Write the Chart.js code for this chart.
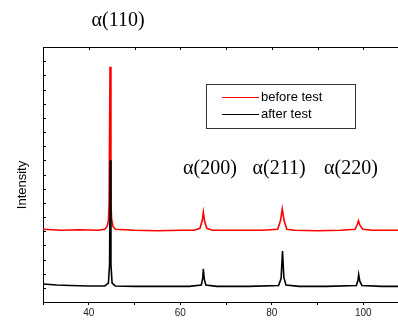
<!DOCTYPE html>
<html>
<head>
<meta charset="utf-8">
<script src="https://cdn.jsdelivr.net/npm/chart.js@4.4.1/dist/chart.umd.min.js"></script>
<style>
  html, body { margin: 0; padding: 0; background: #fff; overflow: hidden; }
  #wrap { width: 420px; height: 322px; }
</style>
</head>
<body>
<div id="wrap"><canvas id="xrdChart" width="420" height="322"></canvas></div>
<script>
// 2theta (deg) vs intensity (a.u.)
const beforeTest = [
    [30, 77], [34, 76], [38, 76.5], [42, 76], [43.5, 77], [44.0, 80], [44.3, 86], [44.45, 104],
    [44.65, 249], [44.85, 104], [45.0, 88], [45.3, 80], [45.8, 77], [50, 76], [55, 75.5], [60, 76],
    [63, 76], [64.3, 78], [64.8, 86], [65.05, 95], [65.3, 86], [65.8, 78], [67, 76], [72, 76],
    [78, 76], [81.3, 77], [81.9, 86], [82.3, 98.5], [82.7, 86], [83.3, 77], [85, 76], [90, 75.5],
    [95, 76], [98.2, 77], [98.7, 82], [98.95, 86], [99.3, 81], [99.9, 77], [102, 76], [110, 76]
];
const afterTest = [
    [30, 19], [33, 18], [36, 17.5], [40, 17], [43.5, 17], [44.3, 20], [44.55, 40], [44.7, 150],
    [44.85, 40], [45.1, 20], [45.8, 17], [50, 16.5], [56, 16.5], [62, 16.5], [64.6, 18], [64.9, 25],
    [65.05, 35], [65.25, 24], [65.6, 18], [68, 16.5], [75, 16.5], [81.5, 17.5], [82.05, 25],
    [82.35, 54], [82.65, 26], [83.1, 18], [86, 16.5], [92, 16.5], [98.5, 17.5], [98.85, 23],
    [99.0, 29], [99.25, 22], [99.7, 17.5], [104, 16.5], [110, 16.5]
];
const seriesLabels = ['before test', 'after test'];
const peakLabels = ['α(110)', 'α(200)', 'α(211)', 'α(220)'];
const peakLabelX = [46.4, 66.5, 81.6, 97.3];
const peakLabelY = [298, 141, 141, 141];
const xTickLabels = [40, 60, 80, 100];

const toPoints = arr => arr.map(p => ({x: p[0], y: p[1]}));

// frame ticks pointing inward, top border, y title, peak labels, boxed legend
const decorations = {
    id: 'decorations',
    afterDraw(chart) {
        const ctx = chart.ctx;
        const area = chart.chartArea;
        const xs = chart.scales.x;
        const ys = chart.scales.y;
        ctx.save();
        ctx.strokeStyle = '#000';
        ctx.lineWidth = 1;

        // top border
        ctx.beginPath();
        ctx.moveTo(area.left, area.top + 0.5);
        ctx.lineTo(area.right, area.top + 0.5);
        ctx.stroke();

        // top ticks (inward)
        xs.ticks.forEach(t => {
            const px = Math.round(xs.getPixelForValue(t.value)) + 0.5;
            ctx.beginPath();
            ctx.moveTo(px, area.top);
            ctx.lineTo(px, area.top + 3);
            ctx.stroke();
        });
        // left ticks (inward)
        ys.ticks.forEach(t => {
            const py = Math.round(ys.getPixelForValue(t.value)) + 0.5;
            ctx.beginPath();
            ctx.moveTo(area.left, py);
            ctx.lineTo(area.left + 3, py);
            ctx.stroke();
        });

        // y title
        ctx.fillStyle = '#000';
        ctx.font = '13px "Liberation Sans", Arial, sans-serif';
        ctx.textAlign = 'center';
        ctx.textBaseline = 'middle';
        ctx.translate(22, 185);
        ctx.rotate(-Math.PI / 2);
        ctx.fillText('Intensity', 0, 0);
        ctx.setTransform(1, 0, 0, 1, 0, 0);

        // peak labels
        ctx.font = '20px "Liberation Serif", "Times New Roman", serif';
        peakLabels.forEach((lbl, i) => {
            ctx.fillText(lbl, xs.getPixelForValue(peakLabelX[i]), ys.getPixelForValue(peakLabelY[i]));
        });

        // legend box
        ctx.strokeStyle = '#333';
        ctx.strokeRect(206.5, 84.5, 149, 44);
        ctx.font = '13px "Liberation Sans", Arial, sans-serif';
        ctx.textAlign = 'left';
        chart.data.datasets.forEach((ds, i) => {
            const y = 97.5 + i * 17;
            ctx.strokeStyle = ds.borderColor;
            ctx.beginPath();
            ctx.moveTo(222, y);
            ctx.lineTo(259, y);
            ctx.stroke();
            ctx.fillStyle = '#000';
            ctx.fillText(ds.label, 261, y);
        });
        ctx.restore();
    }
};

new Chart(document.getElementById('xrdChart'), {
    type: 'line',
    data: {
        datasets: [
            {
                label: seriesLabels[0],
                data: toPoints(beforeTest),
                borderColor: '#ff0000',
                borderWidth: 1.6,
                pointRadius: 0,
                tension: 0,
                order: 2
            },
            {
                label: seriesLabels[1],
                data: toPoints(afterTest),
                borderColor: '#000000',
                borderWidth: 1.6,
                pointRadius: 0,
                tension: 0,
                order: 1
            }
        ]
    },
    options: {
        responsive: false,
        animation: false,
        layout: {padding: {top: 47, right: 11, left: 0, bottom: 0}},
        plugins: {
            legend: {display: false},
            tooltip: {enabled: false}
        },
        scales: {
            x: {
                type: 'linear',
                min: 30,
                max: 110,
                afterFit: scale => { scale.height = 20; },
                border: {color: '#000', width: 1},
                grid: {drawOnChartArea: false, tickLength: 3, color: '#000'},
                ticks: {
                    stepSize: 10,
                    padding: 2,
                    maxRotation: 0,
                    autoSkip: false,
                    color: '#222',
                    font: {family: '"Liberation Sans", Arial, sans-serif', size: 10},
                    callback: v => xTickLabels.includes(v) ? String(v) : ''
                }
            },
            y: {
                min: 0,
                max: 270,
                afterFit: scale => { scale.width = 43; },
                border: {color: '#000', width: 1},
                grid: {drawOnChartArea: false, drawTicks: false},
                ticks: {stepSize: 15, display: false}
            }
        }
    },
    plugins: [decorations]
});
</script>
</body>
</html>
